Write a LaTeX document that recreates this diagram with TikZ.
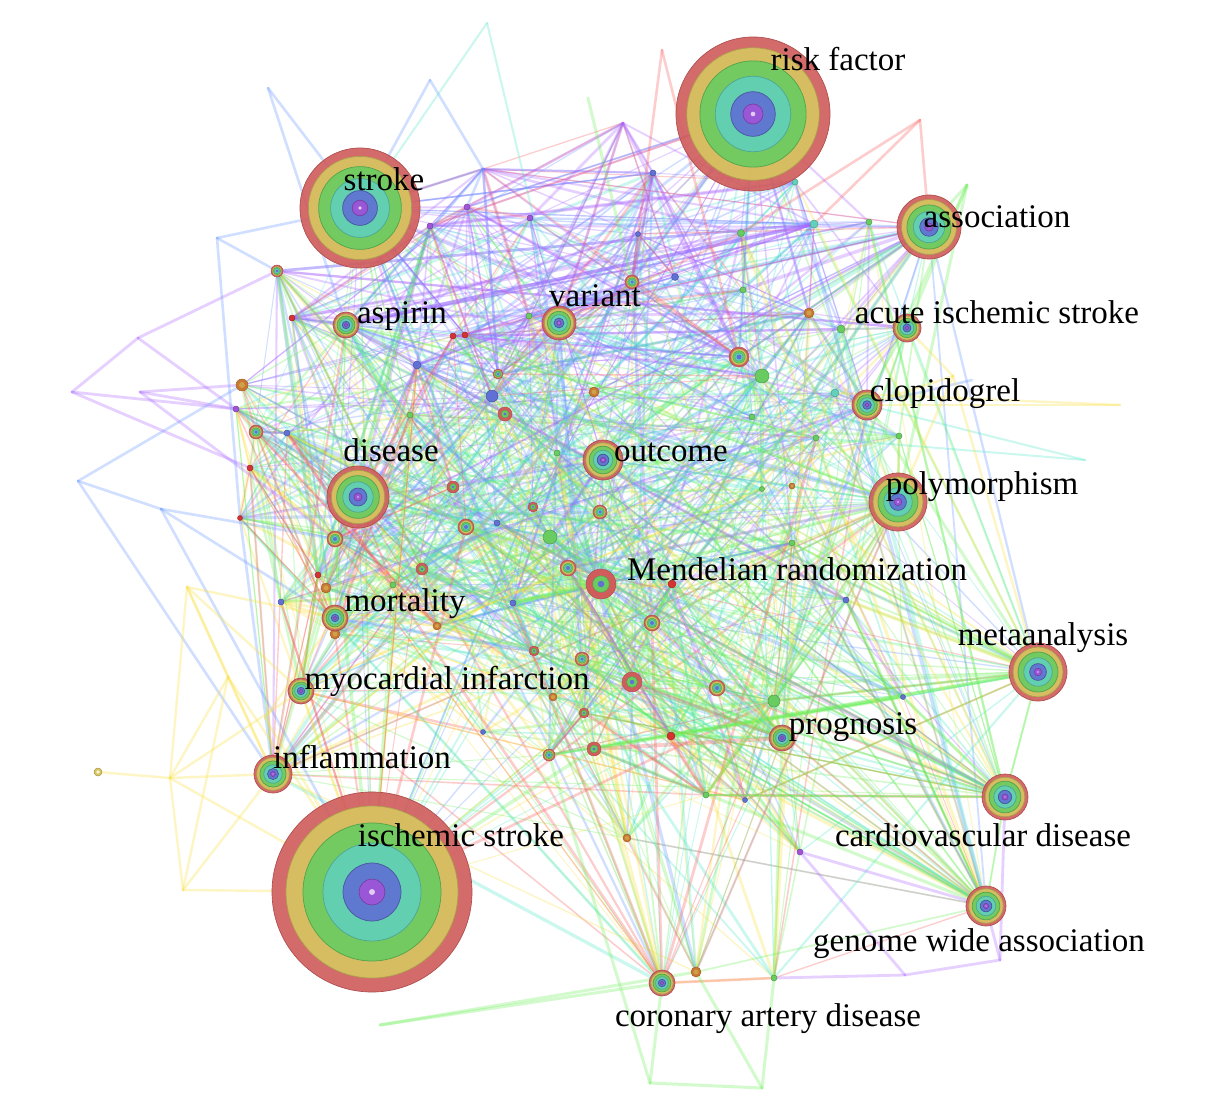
\documentclass[tikz,border=0pt]{standalone}
\usepackage{fontspec}
\setmainfont{Liberation Serif}
\definecolor{cR}{RGB}{208,92,92}
\definecolor{cY}{RGB}{216,198,96}
\definecolor{cG}{RGB}{104,204,96}
\definecolor{cT}{RGB}{98,208,186}
\definecolor{cB}{RGB}{96,112,212}
\definecolor{cP}{RGB}{160,84,216}
\definecolor{cO}{RGB}{200,120,50}
\definecolor{cRd}{RGB}{214,50,50}
\definecolor{eP}{RGB}{170,100,255}
\definecolor{eB}{RGB}{100,150,255}
\definecolor{eT}{RGB}{80,230,200}
\definecolor{eG}{RGB}{110,240,90}
\definecolor{eY}{RGB}{250,225,60}
\definecolor{eR}{RGB}{250,90,90}
\tikzset{
  lbl/.style={font=\fontsize{33}{36}\selectfont, text=black, inner sep=0pt, anchor=base},
  edg/.style={draw opacity=0.3, line cap=round},
  rim/.style={line width=0.7pt, fill opacity=0.9},
  srim/.style={line width=0.45pt},
}
\newcommand\treering[2]{%
  \fill[cR, draw=cR!85!black, rim] (#1) circle[radius=#2pt];
  \fill[cY, draw=cY!80!black, rim] (#1) circle[radius=0.86*#2pt];
  \fill[cG, draw=cG!80!black, rim] (#1) circle[radius=0.69*#2pt];
  \fill[cT, draw=cT!80!black, rim] (#1) circle[radius=0.49*#2pt];
  \fill[cB, draw=cB!75!black, rim] (#1) circle[radius=0.29*#2pt];
  \fill[cP, draw=cP!75!black, rim] (#1) circle[radius=0.13*#2pt];
  \fill[cP!30!white] (#1) circle[radius=0.03*#2pt];
}
\newcommand\smallring[3]{%
  \ifcase#3\relax
    \fill[cR, draw=cR!85!black, srim] (#1) circle[radius=#2pt];
    \fill[cY, draw=cY!80!black, srim] (#1) circle[radius=0.8*#2pt];
    \fill[cG, draw=cG!80!black, srim] (#1) circle[radius=0.62*#2pt];
    \fill[cT, draw=cT!80!black, srim] (#1) circle[radius=0.42*#2pt];
    \fill[cB] (#1) circle[radius=0.25*#2pt];
  \or
    \fill[cR, draw=cR!85!black, srim] (#1) circle[radius=#2pt];
    \fill[cG, draw=cG!80!black, srim] (#1) circle[radius=0.55*#2pt];
    \fill[cB] (#1) circle[radius=0.22*#2pt];
  \or
    \fill[cO, draw=cO!80!black, srim] (#1) circle[radius=#2pt];
    \fill[cO!50!cY] (#1) circle[radius=0.5*#2pt];
  \or
    \fill[cG, draw=cG!75!black, srim] (#1) circle[radius=#2pt];
  \or
    \fill[cB, draw=cB!75!black, srim] (#1) circle[radius=#2pt];
  \or
    \fill[cT, draw=cT!75!black, srim] (#1) circle[radius=#2pt];
  \or
    \fill[cRd, draw=cRd!75!black, srim] (#1) circle[radius=#2pt];
  \or
    \fill[cP, draw=cP!75!black, srim] (#1) circle[radius=#2pt];
  \fi
}
\def\MAINLIST{753/114/77, 360/208/60, 929/227/32, 907/328/14, 867/405/15,
  898/502/29, 346/325/13, 559/323/17, 358/497/31, 603/460/20,
  601/584/15, 335/618/13, 301/691/13, 1038/672/29, 782/738/13,
  273/774/19, 372/892/100, 1005/797/23, 986/906/20, 662/983/13}
\def\SMALLLIST{277/271/6/0, 242/385/6/2, 256/432/7/0, 250/468/3/6, 240/518/2.5/6,
  335/539/8/0, 422/569/6/1, 453/487/6/1, 417/365/4/4, 453/336/3/6,
  632/282/7/0, 675/277/3.5/4, 739/357/10/0, 762/376/7/3, 498/374/5/0,
  492/396/6/4, 505/414/7/1, 594/392/5/2, 809/313/5/2, 741/233/3.5/3,
  814/224/4/5, 743/290/3/3, 841/329/4/3, 869/222/3/3, 835/393/4/5,
  899/436/3/3, 816/438/3/3, 792/486/3/2, 792/543/3/3, 533/507/5/1,
  600/512/7/0, 466/527/8/0, 497/523/3/4, 550/537/7/3, 568/568/8/0,
  672/584/4/6, 513/603/3/4, 652/623/8/0, 437/626/4/2, 534/651/5/1,
  582/659/7/0, 632/682/10/1, 717/688/8/0, 774/701/6/3, 553/697/4/2,
  584/713/5/1, 594/749/7/1, 549/755/6/0, 671/736/4/6, 557/453/3/3,
  762/489/2.5/3, 281/602/3/4, 318/575/3/6, 326/588/5/2, 335/634/5/2,
  393/585/3/3, 627/838/4/2, 696/972/5/2, 774/978/3/3, 745/800/2.5/4,
  903/697/2.5/4, 483/732/2.5/4, 653/173/3/4, 638/234/2.5/4, 795/182/3/5,
  530/218/3/7, 467/207/3/7, 430/226/3/7, 292/318/3/6, 287/433/3/4,
  236/409/3/7, 410/415/3/3, 465/335/3/6, 529/316/3/3, 752/417/3/3,
  846/600/3/4, 706/795/3/3, 800/852/3/7}
\pgfmathdeclarerandomlist{topset}{{v1}{v2}{v7}{v8}{v31}{v32}{v33}{v83}{v84}{v86}{v87}{v88}{v35}{v36}{v29}{v30}{v40}{v41}{v42}{v3}{v85}{v34}{p4}{b6}{v39}{v89}{v93}{v94}}
\pgfmathdeclarerandomlist{rightset}{{v14}{v18}{v19}{v15}{v63}{v64}{v62}{v58}{v61}{v66}{v67}{v6}{v56}{v11}{v54}{v55}{v68}{v69}{v81}{v80}{v49}{v96}{v97}{v10}}
\pgfmathdeclarerandomlist{leftset}{{v9}{v12}{v13}{v16}{v7}{v22}{v23}{v24}{v25}{v26}{v27}{v28}{v29}{v30}{v72}{v73}{v74}{v75}{v76}{v59}{v52}{v90}{v91}{v21}{v92}{v17}}
\pgfmathdeclarerandomlist{hubR}{{v14}{v18}{v19}{v6}{v15}}
\begin{document}
\begin{tikzpicture}[x=1pt,y=-1pt]
\fill[white] (0,0) rectangle (1220,1102);
\useasboundingbox (0,0) rectangle (1220,1102);
% ---- named points
\foreach \x/\y/\r [count=\i] in \MAINLIST {\coordinate (v\i) at (\x,\y);}
\foreach \x/\y/\r/\t [count=\i from 21] in \SMALLLIST {\coordinate (v\i) at (\x,\y); \xdef\NC{\i}}
\coordinate (p1) at (138,338); \coordinate (p2) at (72,392); \coordinate (p3) at (140,392);
\coordinate (p4) at (623,123); \coordinate (b1) at (217,238); \coordinate (b2) at (78,481);
\coordinate (b3) at (161,509); \coordinate (b4) at (268,88); \coordinate (b5) at (430,80);
\coordinate (b6) at (483,169); \coordinate (t1) at (487,23); \coordinate (g1) at (588,98);
\coordinate (g2) at (967,185); \coordinate (g3) at (650,1083); \coordinate (g4) at (762,1088);
\coordinate (g5) at (380,1025); \coordinate (r1) at (662,50); \coordinate (r2) at (920,120);
\coordinate (y1) at (170,778); \coordinate (y2) at (183,890); \coordinate (y3) at (187,587);
\coordinate (y4) at (228,677); \coordinate (y5) at (265,718); \coordinate (y6) at (1120,405);
\coordinate (y7) at (953,376); \coordinate (y8) at (98,772); \coordinate (t2) at (1085,460);
\coordinate (b7) at (972,380); \coordinate (q1) at (905,975); \coordinate (q2) at (1000,960);
% ---- random mesh
\pgfmathsetseed{2024}
\foreach \k in {1,...,620}{
  \pgfmathrandominteger{\a}{1}{\NC}
  \pgfmathrandominteger{\b}{1}{\NC}
  \path (v\a); \pgfgetlastxy{\xa}{\ya}
  \path (v\b); \pgfgetlastxy{\xb}{\yb}
  \pgfmathtruncatemacro{\ci}{max(0,min(5,round(-(\ya+\yb)/360-0.8+4*(rnd-0.5))))}
  \pgfmathsetmacro{\lw}{0.9+3.2*rnd*rnd}
  \edef\col{\ifcase\ci eP\or eB\or eT\or eG\or eY\else eR\fi}
  \draw[edg, draw=\col, line width=\lw pt] (v\a) -- (v\b);
}
\foreach \k in {1,...,320}{
  \pgfmathrandominteger{\a}{1}{20}
  \pgfmathrandominteger{\b}{21}{\NC}
  \path (v\a); \pgfgetlastxy{\xa}{\ya}
  \path (v\b); \pgfgetlastxy{\xb}{\yb}
  \pgfmathtruncatemacro{\ci}{max(0,min(5,round(-(\ya+\yb)/360-0.8+4*(rnd-0.5))))}
  \pgfmathsetmacro{\lw}{0.9+3.2*rnd*rnd}
  \edef\col{\ifcase\ci eP\or eB\or eT\or eG\or eY\else eR\fi}
  \draw[edg, draw=\col, line width=\lw pt] (v\a) -- (v\b);
}
\foreach \k in {1,...,150}{
  \pgfmathrandomitem{\na}{topset}\pgfmathrandomitem{\nb}{topset}
  \pgfmathrandominteger{\ci}{0}{3}
  \pgfmathsetmacro{\lw}{1+3.2*rnd*rnd}
  \edef\col{\ifcase\ci eP\or eB\or eP\else eR\fi}
  \draw[edg, draw=\col, line width=\lw pt] (\na) -- (\nb);
}
\foreach \k in {1,...,110}{
  \pgfmathrandomitem{\na}{rightset}\pgfmathrandomitem{\nb}{rightset}
  \pgfmathrandominteger{\ci}{0}{4}
  \pgfmathsetmacro{\lw}{1+3.2*rnd*rnd}
  \edef\col{\ifcase\ci eG\or eT\or eG\or eR\else eP\fi}
  \draw[edg, draw=\col, line width=\lw pt] (\na) -- (\nb);
}
\foreach \k in {1,...,70}{
  \pgfmathrandomitem{\na}{hubR}
  \pgfmathrandominteger{\b}{21}{\NC}
  \pgfmathrandominteger{\ci}{0}{3}
  \pgfmathsetmacro{\lw}{1+3.2*rnd*rnd}
  \edef\col{\ifcase\ci eG\or eT\or eG\else eY\fi}
  \draw[edg, draw=\col, line width=\lw pt] (\na) -- (v\b);
}
\foreach \k in {1,...,110}{
  \pgfmathrandomitem{\na}{leftset}\pgfmathrandomitem{\nb}{leftset}
  \pgfmathrandominteger{\ci}{0}{4}
  \pgfmathsetmacro{\lw}{0.9+2.8*rnd*rnd}
  \edef\col{\ifcase\ci eR\or eY\or eR\or eG\else eB\fi}
  \draw[edg, draw=\col, line width=\lw pt] (\na) -- (\nb);
}
% ---- peripheral edges
\foreach \u/\w in {p1/p2, p1/v21, p1/v91, p2/v24, p2/v91, p3/v22, p3/v91, p3/v26,
   p4/v86, p4/v87, p4/v83, p4/v33, p4/v35, p4/v8, v79/q1, q1/q2, q2/v19, q1/v98, v98/v19, q2/v18}
  \draw[edg, draw=eP, line width=2.8pt] (\u) -- (\w);
\foreach \u/\w in {b1/v25, b1/v2, b1/v21, b2/b3, b2/v16, b2/v22, b3/v26, b3/v12, b3/v17,
   b4/v2, b4/v7, b5/b6, b5/v2, b6/v2, b6/v7, b6/v35, b6/v87, b7/v5}
  \draw[edg, draw=eB, line width=2.6pt] (\u) -- (\w);
\foreach \u/\w in {t1/v2, t1/v8, t2/v5, t2/v47}
  \draw[edg, draw=eT, line width=2pt] (\u) -- (\w);
\foreach \u/\w in {g1/v31, g2/v3, g2/v6, g2/v4, g2/v5, g3/g4, g3/v20, g3/v68, g4/v79, g4/v78, g5/v78, g5/v20}
  \draw[edg, draw=eG, line width=3pt] (\u) -- (\w);
\foreach \u/\w in {r1/v31, r1/v33, r2/v41, r2/v40, r2/v3}
  \draw[edg, draw=eR, line width=2.6pt] (\u) -- (\w);
\foreach \u/\w in {y8/y1, y1/v16, y1/y2, y1/y3, y1/y4, y1/v13, y1/v17, y2/v17, y2/v16, y2/y4,
   y3/y4, y3/v12, y3/v13, y3/v16, y4/v16, y4/v17, y5/v17, y5/v12, y6/v5, y6/v45,
   y7/v4, y7/v6, y7/v5, y7/v14}
  \draw[edg, draw=eY, line width=2.4pt] (\u) -- (\w);
% ---- keyword nodes
\foreach \x/\y/\r/\t [count=\i from 21] in \SMALLLIST {\smallring{v\i}{\r}{\t}}
\fill[cY, draw=cY!75!black, srim] (y8) circle[radius=4pt];
\fill[white!80!cY] (y8) circle[radius=1.8pt];
\foreach \x/\y/\r [count=\i] in \MAINLIST {\ifnum\i=11 \smallring{v\i}{\r}{1}\else\treering{v\i}{\r}\fi}
% ---- labels
\node[lbl] (L1) at (838,71) {risk factor};
\node[lbl] (L2) at (384,191) {stroke};
\node[lbl] (L3) at (997,227) {association};
\node[lbl] (L4) at (997,323) {acute ischemic stroke};
\node[lbl] (L5) at (945,401) {clopidogrel};
\node[lbl] (L6) at (982,494) {polymorphism};
\node[lbl] (L7) at (402,323) {aspirin};
\node[lbl] (L8) at (595,306) {variant};
\node[lbl] (L9) at (391,461) {disease};
\node[lbl] (L10) at (671,461) {outcome};
\node[lbl] (L11) at (797,580) {Mendelian randomization};
\node[lbl] (L12) at (405,611) {mortality};
\node[lbl] (L13) at (447,689) {myocardial infarction};
\node[lbl] (L14) at (1043,645) {metaanalysis};
\node[lbl] (L15) at (853,734) {prognosis};
\node[lbl] (L16) at (362,768) {inflammation};
\node[lbl] (L17) at (461,846) {ischemic stroke};
\node[lbl] (L18) at (983,846) {cardiovascular disease};
\node[lbl] (L19) at (979,951) {genome wide association};
\node[lbl] (L20) at (768,1026) {coronary artery disease};
\end{tikzpicture}
\end{document}
